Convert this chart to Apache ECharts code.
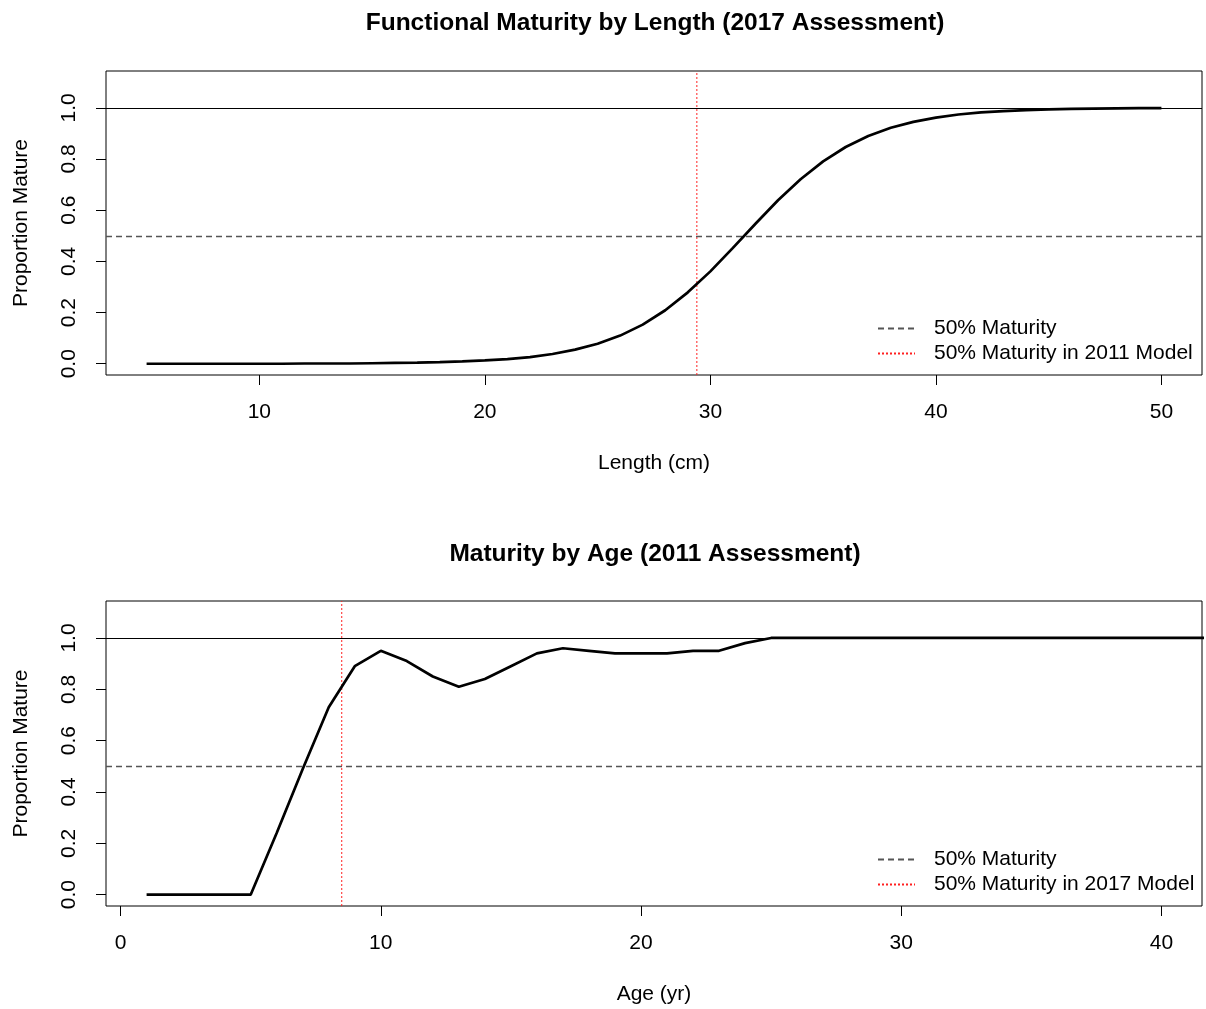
<!DOCTYPE html>
<html><head><meta charset="utf-8">
<script src="https://cdn.jsdelivr.net/npm/echarts@6/dist/echarts.min.js"></script>
<style>html,body{margin:0;padding:0;background:#fff}#c{width:1206px;height:1009px}</style>
</head><body><div id="c"></div>
<script>
// ---- Data ----
const lengths = [5,6,7,8,9,10,11,12,13,14,15,16,17,18,19,20,21,22,23,24,25,26,27,28,29,30,31,32,33,34,35,36,37,38,39,40,41,42,43,44,45,46,47,48,49,50];
const matByLength = [0.000,0.000,0.000,0.000,0.000,0.000,0.000,0.001,0.001,0.001,0.002,0.003,0.004,0.006,0.009,0.013,0.018,0.026,0.038,0.055,0.078,0.110,0.153,0.209,0.279,0.361,0.453,0.547,0.639,0.721,0.791,0.847,0.890,0.922,0.945,0.962,0.974,0.982,0.987,0.991,0.994,0.996,0.997,0.998,0.999,0.999];
const ages = [1,2,3,4,5,6,7,8,9,10,11,12,13,14,15,16,17,18,19,20,21,22,23,24,25,26,27,28,29,30,31,32,33,34,35,36,37,38,39,40,41,42];
const matByAge = [0,0,0,0,0,0.24,0.49,0.73,0.89,0.95,0.91,0.85,0.81,0.84,0.89,0.94,0.96,0.95,0.94,0.94,0.94,0.95,0.95,0.98,1,1,1,1,1,1,1,1,1,1,1,1,1,1,1,1,1,1];
const lengthTicks = [10,20,30,40,50];
const ageTicks = [0,10,20,30,40];
const propTicks = [0,0.2,0.4,0.6,0.8,1.0];
const fullMaturity = 1.0;
const halfMaturity = 0.5;
const l50Model2011 = 29.4;
const a50Model2017 = 8.5;
const titles = ['Functional Maturity by Length (2017 Assessment)', 'Maturity by Age (2011 Assessment)'];
const legendTop = ['50% Maturity', '50% Maturity in 2011 Model'];
const legendBottom = ['50% Maturity', '50% Maturity in 2017 Model'];

// ---- Chart ----
const FONT = '"Liberation Sans", Arial, Helvetica, sans-serif';
const FS = 21;
const Y_MIN = -0.044, Y_MAX = 1.144;
const chart = echarts.init(document.getElementById('c'), null, {renderer: 'canvas'});

function xAxisCfg(idx, min, max, ticks, name) {
  return {
    type: 'value', gridIndex: idx, min: min, max: max,
    name: name, nameLocation: 'middle', nameGap: 78,
    nameTextStyle: {fontFamily: FONT, fontSize: FS, color: '#000'},
    axisLine: {show: false, onZero: false},
    axisTick: {show: true, inside: false, length: 10, customValues: ticks, lineStyle: {color: '#000', width: 1}},
    axisLabel: {show: true, customValues: ticks, margin: 27, fontFamily: FONT, fontSize: FS, color: '#000'},
    splitLine: {show: false}
  };
}
function yAxisCfg(idx) {
  return {
    type: 'value', gridIndex: idx, min: Y_MIN, max: Y_MAX,
    name: 'Proportion Mature', nameLocation: 'middle', nameGap: 74, nameRotate: 90,
    nameTextStyle: {fontFamily: FONT, fontSize: FS, color: '#000'},
    axisLine: {show: false, onZero: false},
    axisTick: {show: true, inside: false, length: 10, customValues: propTicks, lineStyle: {color: '#000', width: 1}},
    axisLabel: {show: true, customValues: propTicks, rotate: 90, margin: 26, fontFamily: FONT, fontSize: FS, color: '#000',
      formatter: v => Number(v).toFixed(1)},
    splitLine: {show: false}
  };
}
const dashStyle = {color: '#555555', width: 1.3, type: [6, 4]};
const dotStyle = {color: '#ff2020', width: 1, type: [2, 2]};
const solidRef = {color: '#000000', width: 1, type: 'solid'};
function refLine(name, xi, yi, style, mark) {
  return {
    name: name, type: 'line', xAxisIndex: xi, yAxisIndex: yi, data: [],
    color: style.color,
    symbol: 'none', showSymbol: false, lineStyle: Object.assign({}, style),
    itemStyle: {color: style.color},
    silent: true,
    markLine: {silent: true, symbol: ['none', 'none'], label: {show: false},
      itemStyle: {color: style.color},
      lineStyle: Object.assign({}, style),
      emphasis: {disabled: true},
      data: [Object.assign({}, mark, {lineStyle: Object.assign({}, style), itemStyle: {color: style.color}})]}
  };
}
// vertical reference drawn as an ordinary line series spanning the y-axis range
function vLine(name, xi, yi, style, xVal) {
  return {
    name: name, type: 'line', xAxisIndex: xi, yAxisIndex: yi,
    data: [[xVal, Y_MIN], [xVal, Y_MAX]],
    color: style.color, symbol: 'none', showSymbol: false, silent: true, clip: true,
    lineStyle: Object.assign({}, style), itemStyle: {color: style.color}, z: 3
  };
}
function legendCfg(names, top) {
  return {data: names, orient: 'vertical', left: 872, top: top, itemWidth: 37, itemHeight: 12, itemGap: 4,
    selectedMode: false, itemStyle: {opacity: 0},
    textStyle: {fontFamily: FONT, fontSize: FS, color: '#000', padding: [0, 0, 0, 14]}};
}

const option = {
  animation: false,
  backgroundColor: '#fff',
  title: [
    {text: titles[0], left: 650, textAlign: 'center', top: 6,
      textStyle: {fontFamily: FONT, fontSize: 24.5, fontWeight: 'bold', color: '#000'}},
    {text: titles[1], left: 650, textAlign: 'center', top: 537,
      textStyle: {fontFamily: FONT, fontSize: 24.5, fontWeight: 'bold', color: '#000'}}
  ],
  grid: [
    {left: 106, top: 71, width: 1096, height: 304, show: true, borderColor: '#000', borderWidth: 1, backgroundColor: 'transparent'},
    {left: 106, top: 601, width: 1096, height: 305, show: true, borderColor: '#000', borderWidth: 1, backgroundColor: 'transparent'}
  ],
  xAxis: [
    xAxisCfg(0, 3.2, 51.8, lengthTicks, 'Length (cm)'),
    xAxisCfg(1, -0.56, 41.56, ageTicks, 'Age (yr)')
  ],
  yAxis: [yAxisCfg(0), yAxisCfg(1)],
  legend: [legendCfg(legendTop, 313), legendCfg(legendBottom, 844)],
  series: [
    refLine('_full_top', 0, 0, solidRef, {yAxis: fullMaturity}),
    refLine('50% Maturity', 0, 0, dashStyle, {yAxis: halfMaturity}),
    vLine('50% Maturity in 2011 Model', 0, 0, dotStyle, l50Model2011),
    {name: 'Maturity by Length', type: 'line', xAxisIndex: 0, yAxisIndex: 0,
      data: lengths.map((l, i) => [l, matByLength[i]]), symbol: 'none', clip: true,
      lineStyle: {color: '#000', width: 2.7}, z: 5},
    refLine('_full_bottom', 1, 1, solidRef, {yAxis: fullMaturity}),
    refLine('50% Maturity ', 1, 1, dashStyle, {yAxis: halfMaturity}),
    vLine('50% Maturity in 2017 Model', 1, 1, dotStyle, a50Model2017),
    {name: 'Maturity by Age', type: 'line', xAxisIndex: 1, yAxisIndex: 1,
      data: ages.map((a, i) => [a, matByAge[i]]), symbol: 'none', clip: true,
      lineStyle: {color: '#000', width: 2.7}, z: 5}
  ]
};
chart.setOption(option);
</script>
</body></html>
